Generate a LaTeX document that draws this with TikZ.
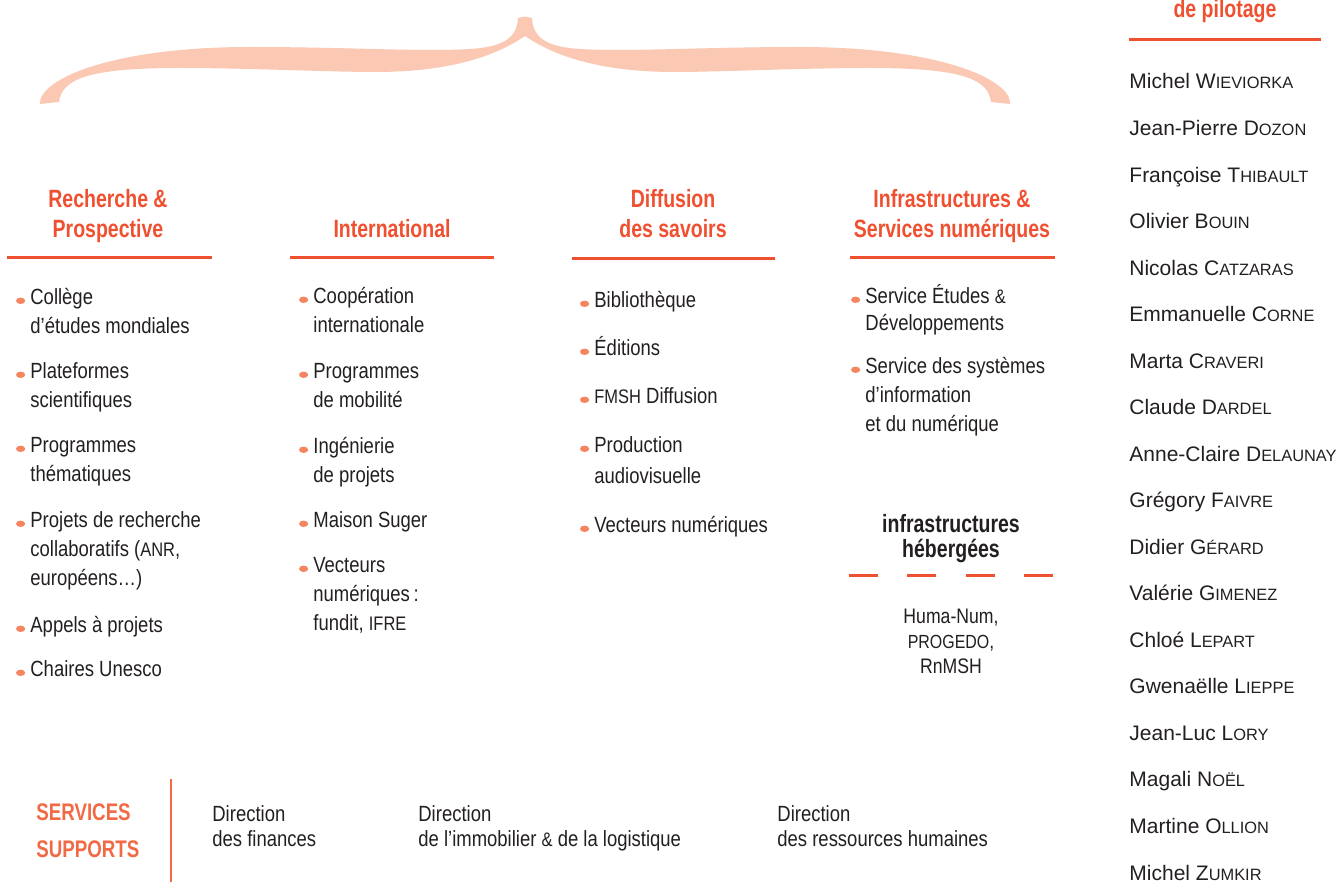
\documentclass[tikz,border=0pt]{standalone}
\usepackage{fontspec}
\setmainfont{Liberation Sans}
\newfontfamily\condfont[FakeStretch=0.84]{Liberation Sans}
\newfontfamily\headfont[FakeStretch=0.78]{Liberation Sans}
\definecolor{headc}{HTML}{EF5030}
\definecolor{bracec}{HTML}{FBC8B3}
\definecolor{dotc}{HTML}{F4855F}
\definecolor{suppc}{HTML}{F26A45}
\definecolor{textc}{HTML}{231F20}
\newcommand{\nsc}[1]{{\fontsize{8.2}{10}\selectfont #1}}
\newcommand{\abbr}[1]{{\fontsize{9.8}{10}\selectfont #1}}
% first line carries the baseline
\newcommand{\lstack}[1]{\begin{tabular}[t]{@{}l@{}}#1\end{tabular}}
\newcommand{\cstack}[1]{\begin{tabular}[t]{@{}c@{}}#1\end{tabular}}
\tikzset{
  head/.style={font=\headfont\bfseries\fontsize{12.5}{15}\selectfont, text=headc, anchor=base, inner sep=0pt},
  entry/.style={font=\condfont\fontsize{11}{14.5}\selectfont, text=textc, anchor=base west, inner sep=0pt},
  person/.style={font=\fontsize{10.5}{12}\selectfont, text=textc, anchor=base west, inner sep=0pt},
  rule/.style={headc, line width=1.5pt},
  dot/.style={fill=dotc},
}

\begin{document}
\begin{tikzpicture}[x=0.5pt, y=-0.5pt]
\useasboundingbox (0,0) rectangle (1337,882);

% accolade
\foreach \s/\d in {1/0,-1/1050}
  \fill[bracec, shift={(\d,0)}, xscale=\s] (518,18) .. controls (517,40) and (500,47) .. (470,49)
    .. controls (420,52) and (350,47) .. (250,47) .. controls (110,47) and (38,80) .. (40,104)
    -- (59,102) .. controls (62,80) and (85,68) .. (179,68) .. controls (250,68) and (330,72) .. (375,72)
    .. controls (440,72) and (490,60) .. (525,36) -- (525,16.5) -- cycle;

% poles
\node[head] (rech) at (108,207) {\cstack{Recherche \&\\Prospective}};
\node[head] (inter) at (392,237) {International};
\node[head] (diff) at (673,207) {\cstack{Diffusion\\des savoirs}};
\node[head] (infra) at (952,207) {\cstack{Infrastructures \&\\Services numériques}};
\node[head] (pilot) at (1225,18) {de pilotage};
\draw[rule] (7,257) -- (212,257);
\draw[rule] (290,257) -- (494,257);
\draw[rule] (572,258) -- (775,258);
\draw[rule] (850,257) -- (1055,257);
\draw[rule] (1129,40) -- (1321,40);

% Recherche & Prospective
\node[entry] (rp1) at (30,304) {\lstack{Collège\\d’études mondiales}};
\node[entry] (rp2) at (30,378) {\lstack{Plateformes\\scientifiques}};
\node[entry] (rp3) at (30,452) {\lstack{Programmes\\thématiques}};
\node[entry] (rp4) at (30,527) {\lstack{Projets de recherche\\collaboratifs (\abbr{ANR},\\européens…)}};
\node[entry] (rp5) at (30,632) {Appels à projets};
\node[entry] (rp6) at (30,676) {Chaires Unesco};

% International
\node[entry] (in1) at (313,303) {\lstack{Coopération\\internationale}};
\node[entry] (in2) at (313,378) {\lstack{Programmes\\de mobilité}};
\node[entry] (in3) at (313,453) {\lstack{Ingénierie\\de projets}};
\node[entry] (in4) at (313,527) {Maison Suger};
\node[entry] (in5) at (313,572) {\lstack{Vecteurs\\numériques\,:\\fundit, \abbr{IFRE}}};

% Diffusion des savoirs
\node[entry] (ds1) at (594,307) {Bibliothèque};
\node[entry] (ds2) at (594,355) {Éditions};
\node[entry] (ds3) at (594,403) {\abbr{FMSH} Diffusion};
\node[entry] (ds4) at (594,452) {\lstack{Production\\[1pt]audiovisuelle}};
\node[entry] (ds5) at (594,532) {Vecteurs numériques};

% Infrastructures & Services numeriques
\node[entry] (is1) at (865,303) {\lstack{Service Études \abbr{\&}\\[-1pt]Développements}};
\node[entry] (is2) at (865,373) {\lstack{Service des systèmes\\d’information\\et du numérique}};

\foreach \n in {rp1,rp2,rp3,rp4,rp5,rp6,in1,in2,in3,in4,in5,ds1,ds2,ds3,ds4,ds5,is1,is2}
  \fill[dot] ([shift={(-4.7pt,1.6pt)}]\n.base west) ellipse (2.3pt and 1.6pt);

% infrastructures hebergees
\node[head, text=textc, font=\headfont\bfseries\fontsize{12.5}{12.5}\selectfont] (heb) at (951,532) {\cstack{infrastructures\\hébergées}};
\draw[headc, line width=1.5pt, dash pattern=on 14.5pt off 14.7pt] (849,575) -- (1053,575);
\node[entry, anchor=base, font=\condfont\fontsize{10.5}{12.5}\selectfont] (hum) at (951,623) {\cstack{Huma-Num,\\{\fontsize{9.5}{10}\selectfont PROGEDO},\\RnMSH}};

% services supports
\node[head, text=suppc, anchor=base west, font=\headfont\bfseries\fontsize{12}{18.5}\selectfont] (supp) at (36,820) {\lstack{SERVICES\\SUPPORTS}};
\draw[suppc, line width=1pt] (171,779) -- (171,882);
\node[entry, font=\condfont\fontsize{11}{12.5}\selectfont] (fin) at (212,821) {\lstack{Direction\\des finances}};
\node[entry, font=\condfont\fontsize{11}{12.5}\selectfont] (immo) at (418,821) {\lstack{Direction\\de l’immobilier \abbr{\&} de la logistique}};
\node[entry, font=\condfont\fontsize{11}{12.5}\selectfont] (rh) at (777,821) {\lstack{Direction\\des ressources humaines}};

% comite de pilotage
\node[person] (p1) at (1129,89) {Michel W\nsc{IEVIORKA}};
\node[person] (p2) at (1129,135.5) {Jean-Pierre D\nsc{OZON}};
\node[person] (p3) at (1129,182.1) {Françoise T\nsc{HIBAULT}};
\node[person] (p4) at (1129,228.6) {Olivier B\nsc{OUIN}};
\node[person] (p5) at (1129,275.1) {Nicolas C\nsc{ATZARAS}};
\node[person] (p6) at (1129,321.6) {Emmanuelle C\nsc{ORNE}};
\node[person] (p7) at (1129,368.2) {Marta C\nsc{RAVERI}};
\node[person] (p8) at (1129,414.7) {Claude D\nsc{ARDEL}};
\node[person] (p9) at (1129,461.2) {Anne-Claire D\nsc{ELAUNAY}};
\node[person] (p10) at (1129,507.8) {Grégory F\nsc{AIVRE}};
\node[person] (p11) at (1129,554.3) {Didier G\nsc{ÉRARD}};
\node[person] (p12) at (1129,600.8) {Valérie G\nsc{IMENEZ}};
\node[person] (p13) at (1129,647.4) {Chloé L\nsc{EPART}};
\node[person] (p14) at (1129,693.9) {Gwenaëlle L\nsc{IEPPE}};
\node[person] (p15) at (1129,740.4) {Jean-Luc L\nsc{ORY}};
\node[person] (p16) at (1129,786.9) {Magali N\nsc{OËL}};
\node[person] (p17) at (1129,833.5) {Martine O\nsc{LLION}};
\node[person] (p18) at (1129,880) {Michel Z\nsc{UMKIR}};
\end{tikzpicture}
\end{document}
